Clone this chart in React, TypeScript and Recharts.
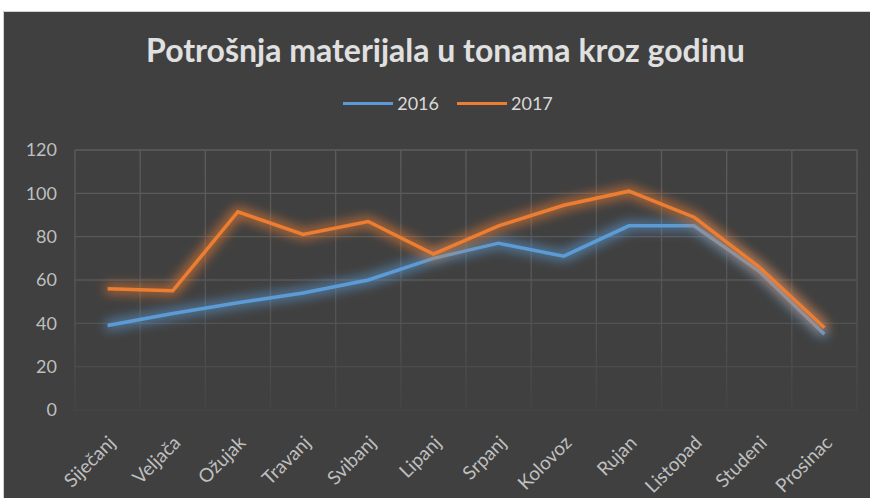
import React from 'react';
import { LineChart, Line, XAxis, YAxis, CartesianGrid, Legend } from 'recharts';

const months = ['Siječanj', 'Veljača', 'Ožujak', 'Travanj', 'Svibanj', 'Lipanj', 'Srpanj', 'Kolovoz', 'Rujan', 'Listopad', 'Studeni', 'Prosinac'];
const values2016 = [39, 44.5, 49.5, 54, 60, 70, 77, 71, 85, 85, 64, 35];
const values2017 = [56, 55, 91.5, 81, 87, 72, 85, 94.5, 101, 89, 66, 38];
const yTicks = [0, 20, 40, 60, 80, 100, 120];
const seriesNames = ['2016', '2017'];

const data = months.map((m, i) => ({ month: m, y2016: values2016[i], y2017: values2017[i] }));

const BLUE = '#5b9bd5';
const ORANGE = '#ed7d31';
const FONT = 'Lato, "Open Sans", sans-serif';

const XTick = (props: any) => {
  const { x, y, payload } = props;
  return (
    <g transform={`translate(${x + 9},${y + 26})`}>
      <text x={0} y={0} textAnchor="end" transform="rotate(-45)" fill="#bfbfbf" fontSize={19} fontFamily={FONT}>
        {payload.value}
      </text>
    </g>
  );
};

const LegendContent = () => (
  <div style={{ display: 'flex', justifyContent: 'center', alignItems: 'center', fontFamily: FONT, fontSize: 18, color: '#d9d9d9', paddingLeft: 22 }}>
    {[BLUE, ORANGE].map((c, i) => (
      <div key={i} style={{ display: 'flex', alignItems: 'center', marginRight: i === 0 ? 18 : 0 }}>
        <div style={{ width: 50, height: 3, background: c, marginRight: 4 }} />
        <span>{seriesNames[i]}</span>
      </div>
    ))}
  </div>
);

const GlowFilter = ({ id }: { id: string }) => (
  <filter id={id} x="-10%" y="-50%" width="120%" height="200%">
    <feMorphology in="SourceGraphic" operator="dilate" radius="1.5" result="d" />
    <feGaussianBlur in="d" stdDeviation="6" result="b" />
    <feComponentTransfer in="b" result="b2">
      <feFuncA type="linear" slope="0.8" />
    </feComponentTransfer>
    <feMerge>
      <feMergeNode in="b2" />
      <feMergeNode in="SourceGraphic" />
    </feMerge>
  </filter>
);

export default function App() {
  const W = 866;
  const H = 486;
  return (
    <div style={{ position: 'absolute', left: 0, top: 0, width: 870, height: 498, background: '#ffffff', overflow: 'hidden' }}>
      <div style={{ position: 'absolute', left: 3, top: 11, width: 867, height: 487, background: '#d0d0d0' }} />
      <div style={{ position: 'absolute', left: 4, top: 12, width: W, height: H, background: '#404040' }}>
        <div style={{ position: 'absolute', left: 0, top: 22, width: 883, textAlign: 'center', fontFamily: FONT, fontWeight: 700, fontSize: 32, lineHeight: '32px', color: '#e0e0e0' }}>
          Potrošnja materijala u tonama kroz godinu
        </div>
        <LineChart width={W} height={H} data={data} margin={{ top: 138, right: 13, bottom: 8, left: 11 }}>
          <defs>
            <linearGradient id="gridFade" gradientUnits="userSpaceOnUse" x1="0" y1="138" x2="0" y2="400">
              <stop offset="0%" stopColor="#5c5c5c" />
              <stop offset="60%" stopColor="#555555" />
              <stop offset="100%" stopColor="#444444" />
            </linearGradient>
            <GlowFilter id="glowBlue" />
            <GlowFilter id="glowOrange" />
          </defs>
          <CartesianGrid
            stroke="url(#gridFade)"
            strokeWidth={1.3}
            verticalCoordinatesGenerator={({ offset }: any) =>
              Array.from({ length: months.length + 1 }, (_, i) => offset.left + (i * offset.width) / months.length)
            }
          />
          <XAxis dataKey="month" scale="band" interval={0} axisLine={false} tickLine={false} height={80} tick={<XTick />} />
          <YAxis
            domain={[0, 120]}
            ticks={yTicks}
            width={60}
            axisLine={false}
            tickLine={false}
            tickMargin={12}
            tick={{ fill: '#bfbfbf', fontSize: 18, fontFamily: FONT }}
          />
          <Legend verticalAlign="middle" wrapperStyle={{ top: 80, left: 0, width: W }} content={<LegendContent />} />
          <Line dataKey="y2016" name="2016" stroke={BLUE} strokeWidth={3.5} dot={false} filter="url(#glowBlue)" isAnimationActive={false} />
          <Line dataKey="y2017" name="2017" stroke={ORANGE} strokeWidth={3.5} dot={false} filter="url(#glowOrange)" isAnimationActive={false} />
        </LineChart>
      </div>
    </div>
  );
}
